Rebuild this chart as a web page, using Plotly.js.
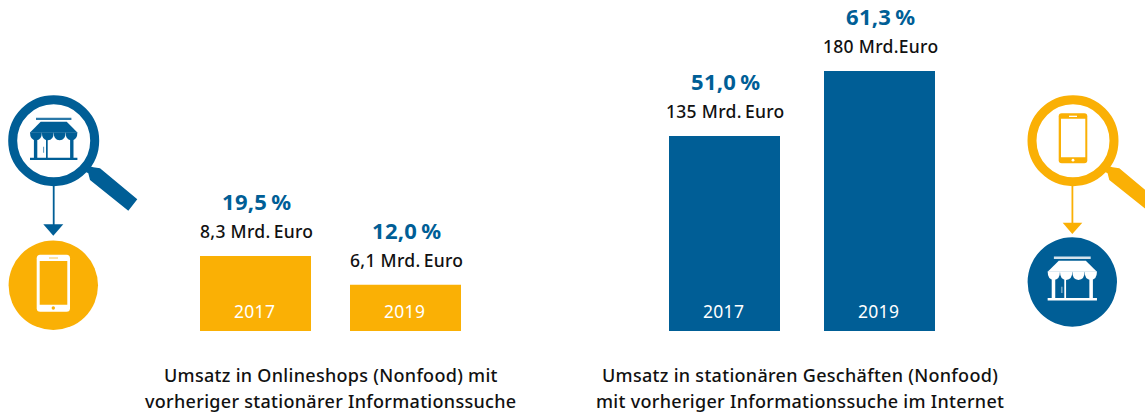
<!DOCTYPE html>
<html><head><meta charset="utf-8">
<script src="https://cdn.plot.ly/plotly-3.0.1.min.js"></script>
<style>html,body{margin:0;padding:0;background:#fff}#c{width:1145px;height:412px}
.annotation-text{letter-spacing:.3px}</style>
</head><body><div id="c"></div>
<script>
const years = ['2017', '2019'];
const onlineShare = [19.5, 12.0];
const onlineRevenue = [8.3, 6.1];
const storeShare = [51.0, 61.3];
const storeRevenue = [135, 180];
const onlineShareLabels = ['19,5\u2009%', '12,0\u2009%'];
const onlineRevenueLabels = ['8,3 Mrd.\u2009Euro', '6,1 Mrd.\u2009Euro'];
const storeShareLabels = ['51,0\u2009%', '61,3\u2009%'];
const storeRevenueLabels = ['135 Mrd.\u2009Euro', '180 Mrd.Euro'];
const onlineCaption = ['Umsatz in Onlineshops (Nonfood) mit', 'vorheriger stationärer Informationssuche'];
const storeCaption = ['Umsatz in stationären Geschäften (Nonfood)', 'mit vorheriger Informationssuche im Internet'];

const BLUE = '#005e96', YELLOW = '#fab005', TXT = '#111111';
const FONT = '"Noto Sans", sans-serif';
const W = 1145, H = 412;
const px = x => x / W, py = y => 1 - y / H;

function pathShape(pts, fill) {
  const d = pts.map(c => {
    const n = c.slice(1).map((v, i) => i % 2 ? py(v) : px(v));
    return c[0] + n.join(',');
  }).join(' ');
  return {type: 'path', xref: 'paper', yref: 'paper', path: d, fillcolor: fill, line: {width: 0}};
}
function poly(p, fill) {
  return pathShape(p.map((q, i) => [i ? 'L' : 'M', q[0], q[1]]).concat([['Z']]), fill);
}
function rect(x0, y0, x1, y1, fill) { return poly([[x0, y0], [x1, y0], [x1, y1], [x0, y1]], fill); }
function rrect(x0, y0, x1, y1, r, fill) {
  return pathShape([['M', x0 + r, y0], ['L', x1 - r, y0], ['Q', x1, y0, x1, y0 + r], ['L', x1, y1 - r], ['Q', x1, y1, x1 - r, y1],
    ['L', x0 + r, y1], ['Q', x0, y1, x0, y1 - r], ['L', x0, y0 + r], ['Q', x0, y0, x0 + r, y0], ['Z']], fill);
}
function circle(cx, cy, r, fill, stroke, sw) {
  return {type: 'circle', xref: 'paper', yref: 'paper', x0: px(cx - r), x1: px(cx + r), y0: py(cy + r), y1: py(cy - r),
    fillcolor: fill, line: {width: sw || 0, color: stroke || fill}};
}
function store(cx, top, s, fg, light) {
  const X = v => cx + v * s, Y = v => top + v * s, out = [];
  out.push(rect(X(-17.7), Y(0), X(17.7), Y(2.4), light));
  out.push(poly([[X(-13), Y(4)], [X(13), Y(4)], [X(23.7), Y(14.7)], [X(-23.7), Y(14.7)]], fg));
  out.push(rect(X(-19.8), Y(18), X(-16.4), Y(41), fg));
  out.push(rect(X(16.4), Y(18), X(19.8), Y(41), fg));
  out.push(rect(X(-7.7), Y(19), X(-6), Y(41), fg));
  out.push(rect(X(-10.4), Y(29), X(-9.6), Y(35), light));
  const n = 4, w = 47.4 / n;
  for (let i = 0; i < n; i++) {
    const a = -23.7 + i * w;
    out.push(pathShape([['M', X(a), Y(14.5)], ['L', X(a + w), Y(14.5)], ['Q', X(a + w), Y(22.5), X(a + w / 2), Y(22.5)], ['Q', X(a), Y(22.5), X(a), Y(14.5)], ['Z']], fg));
  }
  out.push(rect(X(-23.7), Y(40), X(23.7), Y(42.3), fg));
  return out;
}
const handle = dx => [[84,171],[88.3,173.3],[90,180],[128.3,210.7],[137.3,199.3],[100,168.3],[93.3,167.3],[89,166]].map(p => [p[0] + dx, p[1]]);

const shapes = [
  circle(53.7, 140.7, 41, 'rgba(0,0,0,0)', BLUE, 9),
  poly(handle(0), BLUE),
  rect(52.8, 186, 54.6, 226, BLUE),
  poly([[43.3, 224.3], [63.3, 224.3], [53.3, 235.7]], BLUE),
  circle(53.3, 285.3, 44.7, YELLOW),
  rrect(36.7, 254.7, 70, 311.7, 3.5, '#ffffff'),
  rect(39.7, 261, 67.3, 304.7, YELLOW),
  rect(49, 257, 58, 259, '#fde3a6'),
  circle(53.3, 308, 1.7, YELLOW),
  ...store(53.7, 117.7, 1, BLUE, '#2a78a8'),
  circle(1073, 140.7, 41, 'rgba(0,0,0,0)', YELLOW, 9),
  poly(handle(1019.3), YELLOW),
  rect(1071.5, 186, 1073.3, 224, YELLOW),
  poly([[1062.7, 222.7], [1082.3, 222.7], [1072.3, 234]], YELLOW),
  circle(1072.3, 282, 44.7, BLUE),
  rrect(1058.7, 113.3, 1087.3, 163.3, 3, YELLOW),
  rect(1061, 118.7, 1085.3, 157.3, '#ffffff'),
  rect(1069, 115.7, 1077, 117, '#ffffff'),
  circle(1073, 160.2, 1.4, '#ffffff'),
  ...store(1072.3, 256.5, 1.04, '#ffffff', '#d5e3ed')
];

const axisOff = {visible: false, fixedrange: true, showgrid: false, zeroline: false};
const baseDomain = [(H - 331) / H, 1];

const traces = [
  {type: 'bar', x: years, y: onlineShare, width: 111 / 150, xaxis: 'x', yaxis: 'y', marker: {color: YELLOW, line: {width: 0}}, hoverinfo: 'skip'},
  {type: 'bar', x: years, y: storeRevenue, width: 111 / 155, xaxis: 'x2', yaxis: 'y2', marker: {color: BLUE, line: {width: 0}}, hoverinfo: 'skip'}
];

const ann = [];
function labels(xref, yref, vals, share, rev) {
  years.forEach((yr, i) => {
    const base = {xref, yref, x: i, y: vals[i], showarrow: false, xanchor: 'center', yanchor: 'middle'};
    ann.push({...base, text: '<b>' + share[i] + '</b>', yshift: 55, xshift: 0.5, font: {family: FONT, size: 22, color: BLUE}});
    ann.push({...base, text: rev[i], yshift: 25, xshift: 1, font: {family: FONT, size: 17.5, weight: 500, color: TXT}});
    ann.push({...base, y: 0, text: yr, yshift: 20.5, xshift: -1, font: {family: FONT, size: 17.5, color: '#ffffff'}});
  });
}
labels('x', 'y', onlineShare, onlineShareLabels, onlineRevenueLabels);
labels('x2', 'y2', storeRevenue, storeShareLabels, storeRevenueLabels);
function caption(cx, lines) {
  lines.forEach((t, i) => ann.push({xref: 'paper', yref: 'paper', x: px(cx), y: py(375 + i * 26), text: t, showarrow: false,
    xanchor: 'center', yanchor: 'middle', font: {family: FONT, size: 18, weight: 500, color: TXT}}));
}
caption(330.5, onlineCaption);
caption(799.5, storeCaption);

const layout = {
  width: W, height: H, margin: {l: 0, r: 0, t: 0, b: 0, pad: 0},
  paper_bgcolor: '#ffffff', plot_bgcolor: '#ffffff', showlegend: false, hovermode: false, barmode: 'overlay',
  xaxis: {...axisOff, type: 'category', domain: [180.5 / W, 480.5 / W], range: [-0.5, 1.5], anchor: 'y'},
  yaxis: {...axisOff, domain: baseDomain, range: [0, 331 * 19.5 / 75], anchor: 'x'},
  xaxis2: {...axisOff, type: 'category', domain: [647 / W, 957 / W], range: [-0.5, 1.5], anchor: 'y2'},
  yaxis2: {...axisOff, domain: baseDomain, range: [0, 331 * 180 / 260], anchor: 'x2'},
  shapes, annotations: ann
};
Plotly.newPlot('c', traces, layout, {displayModeBar: false, staticPlot: true});
</script></body></html>
